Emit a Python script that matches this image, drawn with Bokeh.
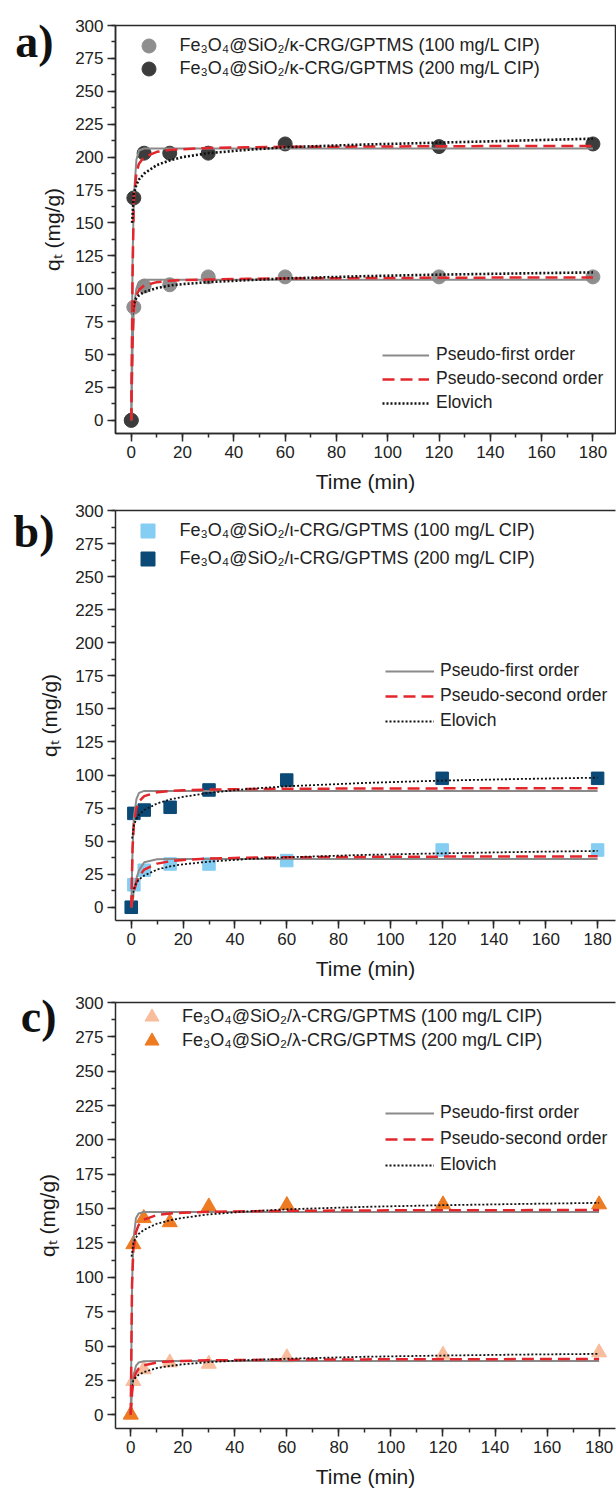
from bokeh.plotting import figure
from bokeh.layouts import column
from bokeh.models import (Range1d, SingleIntervalTicker, FixedTicker, Legend, LegendItem, LinearAxis)
from bokeh.embed import file_html
from bokeh.resources import INLINE

# ---------------- data ----------------
time_exp = [0, 1, 5, 15, 30, 60, 120, 180]
t_fit = [0, 0.5, 1, 2, 3, 5, 10, 15, 20, 30, 45, 60, 90, 120, 150, 180]
t_elo = [0.3, 1, 2, 3, 5, 10, 15, 20, 30, 45, 60, 90, 120, 150, 180]

# panel a : kappa-CRG
a100_exp = [0, 86, 102, 103, 109, 109, 109, 109]
a200_exp = [0, 169, 203, 203, 203, 210, 208, 210]
a100_pfo = [0, 55, 86, 100, 105, 106.8, 106.8, 106.8, 106.8, 106.8, 106.8, 106.8, 106.8, 106.8, 106.8, 106.8]
a100_pso = [0, 60, 85, 95, 99, 102.5, 105, 106, 106.5, 107, 107.5, 107.8, 108.1, 108.3, 108.5, 108.6]
a100_elo = [80, 89, 93, 95, 97.5, 100.5, 102.5, 103.5, 105, 106.5, 107.8, 109.5, 110.7, 111.6, 112.4]
a200_pfo = [0, 120, 170, 198, 205, 206.5, 206.5, 206.5, 206.5, 206.5, 206.5, 206.5, 206.5, 206.5, 206.5, 206.5]
a200_pso = [0, 110, 168, 188, 195, 200, 204, 205.5, 206, 207, 207.5, 207.8, 208, 208.3, 208.4, 208.5]
a200_elo = [150, 172, 179, 183, 187.5, 194, 197.5, 200, 203, 205.5, 207.5, 209.5, 211, 212.5, 214]

# panel b : iota-CRG
b100_exp = [0, 17, 28, 32.7, 32.7, 35.3, 43.3, 43.3]
b200_exp = [0, 71, 73.5, 75.6, 88.7, 96.2, 97.5, 97.5]
b100_pfo = [0, 6, 12, 22, 28, 34, 36.3, 36.5, 36.5, 36.5, 36.5, 36.5, 36.5, 36.5, 36.5, 36.5]
b100_pso = [0, 6.5, 12, 19, 23.5, 28.5, 33, 34.8, 35.8, 36.8, 37.5, 37.8, 38.1, 38.3, 38.4, 38.5]
b100_elo = [8, 14, 18.5, 21, 24, 28.5, 31, 32.5, 34.5, 36.5, 37.8, 39.6, 40.8, 41.8, 42.6]
b200_pfo = [0, 45, 68, 82, 86.5, 88, 88, 88, 88, 88, 88, 88, 88, 88, 88, 88]
b200_pso = [0, 45, 63, 75, 80, 84, 87, 88, 88.5, 89, 89.4, 89.6, 89.8, 89.9, 90, 90]
b200_elo = [52, 62, 67, 70, 73.5, 78.5, 81.5, 83.5, 86.5, 89.5, 91.5, 94, 95.8, 97, 98]

# panel c : lambda-CRG
c100_exp = [0, 24.5, 33, 38, 37, 41.7, 43.6, 45.3]
c200_exp = [0, 124, 143, 140, 151.5, 152.5, 153, 153]
c100_pfo = [0, 18, 28, 35.5, 38, 39, 39.2, 39.2, 39.2, 39.2, 39.2, 39.2, 39.2, 39.2, 39.2, 39.2]
c100_pso = [0, 16, 24, 30.5, 33.5, 36, 38, 38.8, 39.2, 39.6, 39.9, 40.1, 40.3, 40.4, 40.5, 40.5]
c100_elo = [21, 25, 27.5, 29, 31, 34, 35.5, 36.7, 38.3, 39.8, 40.8, 42.2, 43.1, 43.8, 44.3]
c200_pfo = [0, 95, 127, 143, 146.5, 147.5, 147.5, 147.5, 147.5, 147.5, 147.5, 147.5, 147.5, 147.5, 147.5, 147.5]
c200_pso = [0, 95, 120, 133, 138, 142, 145.3, 146.4, 147, 147.7, 148.1, 148.4, 148.7, 148.8, 148.9, 149]
c200_elo = [115, 125, 129, 131.5, 134.5, 139, 141.5, 143.3, 145.8, 148, 149.5, 151.3, 152.5, 153.4, 154.2]

labels_a = ["Fe\u2083O\u2084@SiO\u2082/\u03ba-CRG/GPTMS (100 mg/L CIP)",
            "Fe\u2083O\u2084@SiO\u2082/\u03ba-CRG/GPTMS (200 mg/L CIP)"]
labels_b = ["Fe\u2083O\u2084@SiO\u2082/\u03b9-CRG/GPTMS (100 mg/L CIP)",
            "Fe\u2083O\u2084@SiO\u2082/\u03b9-CRG/GPTMS (200 mg/L CIP)"]
labels_c = ["Fe\u2083O\u2084@SiO\u2082/\u03bb-CRG/GPTMS (100 mg/L CIP)",
            "Fe\u2083O\u2084@SiO\u2082/\u03bb-CRG/GPTMS (200 mg/L CIP)"]
model_names = ["Pseudo-first order", "Pseudo-second order", "Elovich"]
panel_letters = ["a)", "b)", "c)"]
y_range = (-10, 300)

FONT = "Liberation Sans"
AX = "#2a2a2a"
W = 616


def make_panel(letter, exp100, exp200, pfo100, pso100, elo100, pfo200, pso200, elo200,
               labels, marker, col100, col200, msize, height, bl, br, bt, bb,
               xr, leg1, leg2, letter_at, ylab_standoff, elo_w, outline):
    p = figure(width=W, height=height, output_backend="svg", toolbar_location=None,
               x_range=Range1d(*xr), y_range=Range1d(*y_range),
               min_border_left=bl, min_border_right=br, min_border_top=bt, min_border_bottom=bb)
    p.background_fill_color = "white"
    p.border_fill_color = "white"
    p.xgrid.visible = False
    p.ygrid.visible = False

    for ax, iv in ((p.xaxis, 20), (p.yaxis, 25)):
        ax.ticker = SingleIntervalTicker(interval=iv, num_minor_ticks=2)
        ax.axis_line_color = AX
        ax.axis_line_width = 1.5
        ax.major_tick_line_color = AX
        ax.major_tick_line_width = 1.5
        ax.minor_tick_line_color = AX
        ax.minor_tick_line_width = 1.5
        ax.major_tick_in = 0
        ax.major_tick_out = 8
        ax.minor_tick_in = 0
        ax.minor_tick_out = 4
        ax.major_label_text_font = FONT
        ax.major_label_text_font_size = "17px"
        ax.major_label_text_color = "#222222"
        ax.major_label_standoff = 4
        ax.axis_label_text_font = FONT
        ax.axis_label_text_font_size = "21px"
        ax.axis_label_text_font_style = "normal"
        ax.axis_label_text_color = "#1a1a1a"
    p.xaxis.axis_label = "Time (min)"
    p.xaxis.axis_label_standoff = 9
    p.yaxis.axis_label = "q\u209c (mg/g)"
    p.yaxis.axis_label_standoff = ylab_standoff

    # panel letter: an outer, line-less left axis with one labelled tick
    tick_val, standoff = letter_at
    letter_axis = LinearAxis(ticker=FixedTicker(ticks=[tick_val], minor_ticks=[]),
                             major_label_overrides={tick_val: letter},
                             axis_line_color=None, major_tick_line_color=None,
                             minor_tick_line_color=None, major_tick_out=0, major_tick_in=0,
                             major_label_standoff=standoff,
                             major_label_text_font="Liberation Serif",
                             major_label_text_font_style="bold",
                             major_label_text_font_size="46px",
                             major_label_text_color="#111111")
    p.add_layout(letter_axis, "left")

    if outline:
        p.outline_line_color = AX
        p.outline_line_width = 1.5
    else:
        p.outline_line_color = None
        top = LinearAxis(ticker=FixedTicker(ticks=[]), major_tick_line_color=None,
                         minor_tick_line_color=None, major_label_standoff=0,
                         major_label_text_font_size="0px", axis_line_color=AX, axis_line_width=1.5)
        p.add_layout(top, "above")

    s100 = p.scatter(time_exp, exp100, marker=marker, size=msize, fill_color=col100, line_color=col100)
    s200 = p.scatter(time_exp, exp200, marker=marker, size=msize, fill_color=col200, line_color=col200)

    lines = []
    for pfo, pso, elo in ((pfo100, pso100, elo100), (pfo200, pso200, elo200)):
        r1 = p.line(t_fit, pfo, line_color="#8a8a8a", line_width=2)
        r2 = p.line(t_fit, pso, line_color="#e3262b", line_width=2.5, line_dash="12 6")
        r3 = p.line(t_elo, elo, line_color="#111111", line_width=elo_w, line_dash="2 2")
        lines = [r1, r2, r3]

    # one single-item legend per sample, so that the rows can sit closer than the marker box
    lx, ly1, ly2, st = leg1
    for lab, rend, ly in ((labels[0], s100, ly1), (labels[1], s200, ly2)):
        L = Legend(items=[LegendItem(label=lab, renderers=[rend])],
                   location=(lx, ly), glyph_width=35, glyph_height=35, label_height=20,
                   spacing=0, label_standoff=st, padding=0, margin=0,
                   border_line_color=None, background_fill_alpha=0,
                   label_text_font=FONT, label_text_font_size="18px", label_text_color="#222222")
        p.add_layout(L)
    lx2, ly2, gw2, sp2, st2 = leg2
    L2 = Legend(items=[LegendItem(label=n, renderers=[r]) for n, r in zip(model_names, lines)],
                location=(lx2, ly2), glyph_width=gw2, glyph_height=20, label_height=20,
                spacing=sp2, label_standoff=st2, padding=0, margin=0,
                border_line_color=None, background_fill_alpha=0,
                label_text_font=FONT, label_text_font_size="17.5px", label_text_color="#222222")
    p.add_layout(L2)
    return p


pa = make_panel(panel_letters[0], a100_exp, a200_exp, a100_pfo, a100_pso, a100_elo, a200_pfo, a200_pso, a200_elo,
                labels_a, "circle", "#8e8e8e", "#3c3c3c", 14, 498, 108, 1, 25, 65,
                (-6.15, 188.8), (15.5, 370.5, 347.5, 14), (267, 20, 47, 3, 7), (288, -15), 8, 2.6, True)
pb = make_panel(panel_letters[1], b100_exp, b200_exp, b100_pfo, b100_pso, b100_elo, b200_pfo, b200_pso, b200_elo,
                labels_b, "square", "#85cdf2", "#0b4a76", 12.5, 492, 115, 0, 12, 70,
                (-6.09, 186.9), (14.5, 372, 344.5, 15), (270, 189, 49, 4, 6), (284, -19), 11, 1.8, False)
pc = make_panel(panel_letters[2], c100_exp, c200_exp, c100_pfo, c100_pso, c100_elo, c200_pfo, c200_pso, c200_elo,
                labels_c, "triangle", "#f7bd9c", "#ee7a22", 15, 502, 101, 0, 12, 64,
                (-5.86, 186.3), (19, 393.8, 370.5, 13), (270, 253, 49, 5, 6), (290, -23), 13, 1.8, False)

layout = column(pa, pb, pc, spacing=0)
open("out.html", "w").write(file_html(layout, INLINE))
